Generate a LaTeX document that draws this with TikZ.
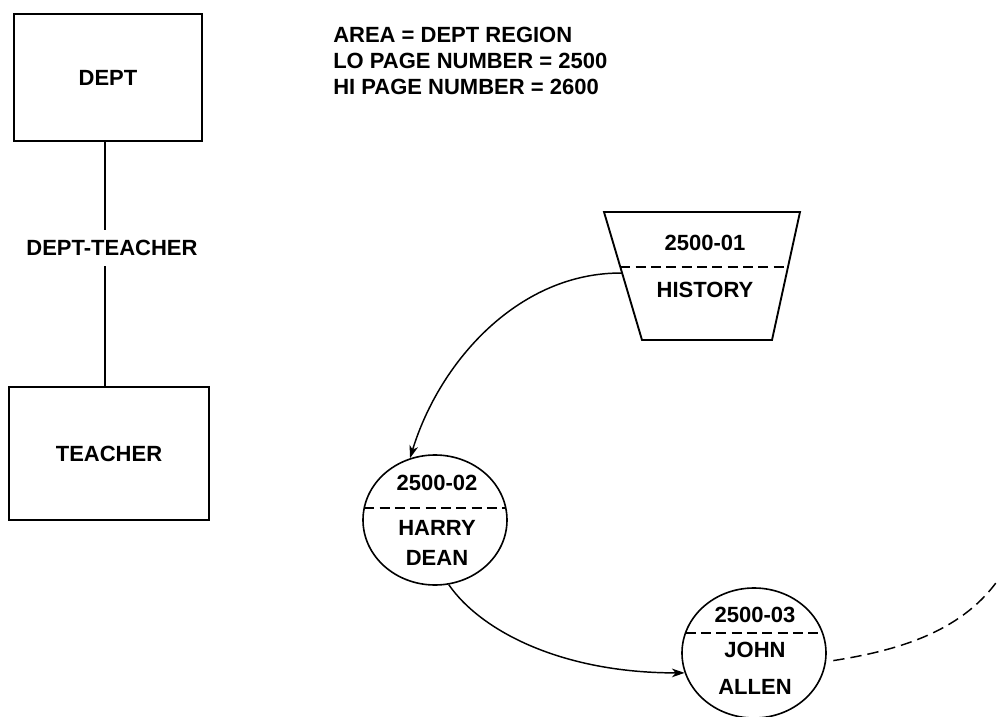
\documentclass[tikz,border=0pt]{standalone}
\usepackage{fontspec}
\setmainfont{Liberation Sans}
\usetikzlibrary{arrows.meta,calc,shapes.geometric}

\begin{document}
\begin{tikzpicture}[x=0.75pt,y=-0.75pt,
  txt/.style={font=\fontsize{16.5}{19}\selectfont\bfseries, inner sep=0pt},
  entity/.style={draw, line width=1.4pt, txt},
  rec/.style={draw, ellipse, line width=1.2pt, minimum width=108pt, minimum height=97.5pt, inner sep=0pt},
  divider/.style={line width=1.1pt, dash pattern=on 7.5pt off 4pt},
  conn/.style={line width=1.1pt, -{Stealth[length=9.5pt,width=6.5pt,inset=2.8pt]}},
  chainlink/.style={line width=1.1pt, dash pattern=on 8.5pt off 4.5pt}
]
\useasboundingbox (0,0) rectangle (997,717);

% schema: owner, set and member record types
\node[entity, minimum width=141pt, minimum height=95.25pt] (dept) at (108,77.5) {DEPT};
\node[entity, minimum width=150pt, minimum height=99.75pt] (teacher) at (109,453.5) {TEACHER};
\draw[line width=1.1pt] ([xshift=-2.25pt]dept.south) -- ([xshift=-2.25pt]dept.south |- teacher.north);
\node[txt, fill=white, inner xsep=3pt, inner ysep=7.5pt] (settype) at (112,248) {DEPT-TEACHER};

% area description
\node[txt, anchor=base west] (area1) at (333,43) {AREA = DEPT REGION};
\node[txt, anchor=base west] (area2) at (333,69) {LO PAGE NUMBER = 2500};
\node[txt, anchor=base west] (area3) at (333,94) {HI PAGE NUMBER = 2600};

% owner occurrence
\coordinate (tl) at (604,212);
\coordinate (tr) at (800,212);
\coordinate (br) at (772,340);
\coordinate (bl) at (642,340);
\draw[line width=1.4pt] (tl) -- (tr) -- (br) -- (bl) -- cycle;
\draw[divider] ($(tl)!0.43!(bl)$) -- ($(tr)!0.43!(br)$);
\node[txt] (hkey) at (705,243) {2500-01};
\node[txt] (hname) at (705,290) {HISTORY};
\coordinate (hout) at ($(tl)!0.477!(bl)$);

% member occurrences
\node[rec] (harry) at (435,520) {};
\draw[divider] ($(harry.center)+(-70.8,-12)$) -- ($(harry.center)+(70.8,-12)$);
\node[txt] (harrykey) at (437,483) {2500-02};
\node[txt] (harry1) at (437,528) {HARRY};
\node[txt] (harry2) at (437,558) {DEAN};

\node[rec] (john) at (754,653) {};
\draw[divider] ($(john.center)+(-68.5,-20)$) -- ($(john.center)+(68.5,-20)$);
\node[txt] (johnkey) at (755,615) {2500-03};
\node[txt] (john1) at (755,650) {JOHN};
\node[txt] (john2) at (755,687) {ALLEN};

% set chain
\draw[conn] (hout) .. controls (520,272) and (440,360) .. (harry.112);
\draw[conn] (harry.-78) .. controls (480,630) and (560,673) .. (john.196);
\coordinate (tail) at (1010,560);
\draw[chainlink] ($(john.-6)+(7,0)$) .. controls (900,650) and (975,630) .. (tail);
\end{tikzpicture}
\end{document}
